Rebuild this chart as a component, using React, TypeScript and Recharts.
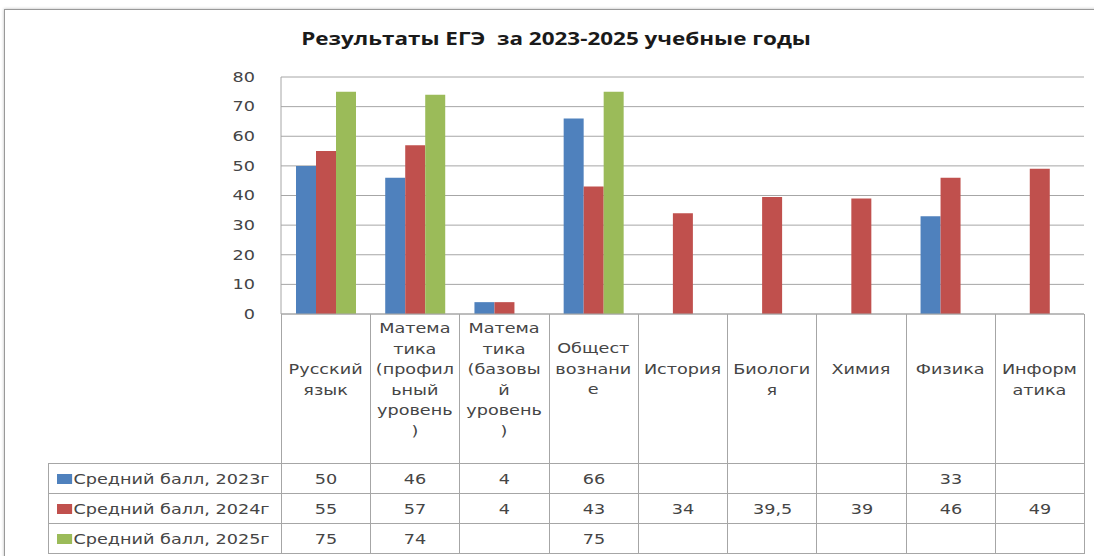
import { Bar, BarChart, CartesianGrid, XAxis, YAxis } from "recharts"

const categories = [
  "Русский язык",
  "Математика (профильный уровень)",
  "Математика (базовый уровень)",
  "Обществознание",
  "История",
  "Биология",
  "Химия",
  "Физика",
  "Информатика",
]

// wrapped the same way as the cells of the reference table
const categoryLines: string[][] = [
  ["Русский", "язык"],
  ["Матема", "тика", "(профил", "ьный", "уровень", ")"],
  ["Матема", "тика", "(базовы", "й", "уровень", ")"],
  ["Общест", "вознани", "е"],
  ["История"],
  ["Биологи", "я"],
  ["Химия"],
  ["Физика"],
  ["Информ", "атика"],
]

const score2023 = [50, 46, 4, 66, null, null, null, 33, null]
const score2024 = [55, 57, 4, 43, 34, 39.5, 39, 46, 49]
const score2025 = [75, 74, null, 75, null, null, null, null, null]

const yTicks = [0, 10, 20, 30, 40, 50, 60, 70, 80]

const series = [
  { key: "y2023", name: "Средний балл, 2023г", color: "#4F81BD", values: score2023 },
  { key: "y2024", name: "Средний балл, 2024г", color: "#C0504D", values: score2024 },
  { key: "y2025", name: "Средний балл, 2025г", color: "#9BBB59", values: score2025 },
]

const data = categories.map((c, i) => ({
  name: c,
  y2023: score2023[i],
  y2024: score2024[i],
  y2025: score2025[i],
}))

const FONT = "'DejaVu Sans', Verdana, sans-serif"
const LINE = "#a6a6a6"
const TEXT = "#454545"
const STRETCH = 1.26 // the reference is drawn a bit wide

const PLOT_LEFT = 281
const PLOT_RIGHT = 1084
const PLOT_TOP = 77
const PLOT_BOTTOM = 314
const HEADER_H = 149
const ROW_H = 29
const COL_W = (PLOT_RIGHT - PLOT_LEFT) / categories.length

function fmt(v: number | null) {
  if (v == null) return ""
  return String(v).replace(".", ",")
}

function CategoryTick(props: any) {
  const { x, payload, index } = props
  const lines = categoryLines[index ?? 0] || [payload.value]
  const lh = 20.5
  // the reference snaps odd and even line counts a little differently
  const mid = PLOT_BOTTOM + (lines.length % 2 === 0 ? 65 : 54.5)
  const first = mid - ((lines.length - 1) * lh) / 2
  return (
    <g transform={`translate(${x} 0) scale(${STRETCH} 1)`}>
      <text textAnchor="middle" fontFamily={FONT} fontSize={14} fill={TEXT} dominantBaseline="central">
        {lines.map((l, i) => (
          <tspan key={i} x={0} y={first + i * lh}>
            {l}
          </tspan>
        ))}
      </text>
    </g>
  )
}

function ValueTick(props: any) {
  const { x, y, payload } = props
  return (
    <g transform={`translate(${x} ${y}) scale(${STRETCH} 1)`}>
      <text textAnchor="end" fontFamily={FONT} fontSize={14} fill={TEXT} dominantBaseline="central">
        {payload.value}
      </text>
    </g>
  )
}

export default function App() {
  const cell: React.CSSProperties = {
    border: `1px solid ${LINE}`,
    padding: 0,
    textAlign: "center",
    fontFamily: FONT,
    fontSize: 14,
    color: TEXT,
    height: ROW_H,
    lineHeight: "16px",
    whiteSpace: "nowrap",
  }
  const wide = (origin: string): React.CSSProperties => ({
    display: "inline-block",
    transform: `scaleX(${STRETCH})`,
    transformOrigin: origin,
  })
  return (
    <div
      style={{
        position: "absolute",
        left: 0,
        top: 0,
        width: 1094,
        height: 556,
        background: "#fff",
        overflow: "hidden",
      }}
    >
      <div
        style={{
          position: "absolute",
          left: 4,
          top: 9,
          width: 1110,
          height: 570,
          border: "1px solid #999",
          boxShadow: "0 0 3px #bbb",
        }}
      />
      <div
        style={{
          position: "absolute",
          left: 0,
          top: 27,
          width: 1112,
          textAlign: "center",
          fontFamily: "'Open Sans', sans-serif",
          fontWeight: 700,
          fontSize: 17,
          color: "#1a1a1a",
          whiteSpace: "pre",
        }}
      >
        <span style={{ ...wide("center"), transform: "scaleX(1.32)" }}>
          {"Результаты ЕГЭ  за 2023-2025 учебные годы"}
        </span>
      </div>

      {/* data table under the plot */}
      <table
        style={{
          position: "absolute",
          left: 48,
          top: PLOT_BOTTOM,
          width: PLOT_RIGHT - 48,
          borderCollapse: "collapse",
          tableLayout: "fixed",
        }}
      >
        <colgroup>
          <col style={{ width: PLOT_LEFT - 48 }} />
          {categories.map((c) => (
            <col key={c} style={{ width: COL_W }} />
          ))}
        </colgroup>
        <tbody>
          <tr>
            <td style={{ border: "none", height: HEADER_H, padding: 0 }} />
            {categories.map((c) => (
              <td key={c} style={{ ...cell, height: HEADER_H, borderTop: "none" }} />
            ))}
          </tr>
          {series.map((s) => (
            <tr key={s.key}>
              <td style={{ ...cell, textAlign: "left", paddingLeft: 8 }}>
                <span style={wide("left center")}>
                  <span
                    style={{
                      display: "inline-block",
                      width: 12,
                      height: 9.5,
                      background: s.color,
                      marginRight: 1,
                    }}
                  />
                  {s.name}
                </span>
              </td>
              {s.values.map((v, i) => (
                <td key={i} style={cell}>
                  <span style={wide("center")}>{fmt(v)}</span>
                </td>
              ))}
            </tr>
          ))}
        </tbody>
      </table>

      <div style={{ position: "absolute", left: 0, top: 0 }}>
        <BarChart
          width={1094}
          height={556}
          data={data}
          margin={{ top: PLOT_TOP, right: 1094 - PLOT_RIGHT, left: 0, bottom: 556 - PLOT_BOTTOM - HEADER_H }}
          barCategoryGap={15}
          barGap={0}
        >
          <CartesianGrid vertical={false} stroke={LINE} />
          <XAxis
            dataKey="name"
            interval={0}
            height={HEADER_H}
            tickLine={false}
            tickSize={0}
            tickMargin={0}
            axisLine={{ stroke: LINE }}
            tick={<CategoryTick />}
          />
          <YAxis
            width={PLOT_LEFT}
            domain={[0, 80]}
            ticks={yTicks}
            interval={0}
            tickLine={false}
            tickMargin={20}
            axisLine={{ stroke: LINE }}
            tick={<ValueTick />}
          />
          {series.map((s) => (
            <Bar key={s.key} dataKey={s.key} name={s.name} fill={s.color} isAnimationActive={false} />
          ))}
        </BarChart>
      </div>
    </div>
  )
}
